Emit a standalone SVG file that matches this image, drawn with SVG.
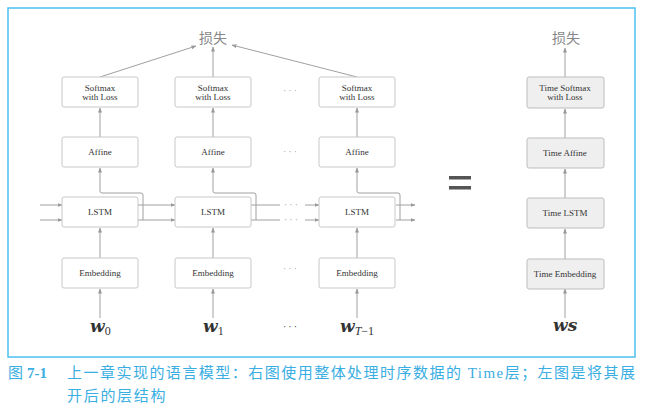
<svg xmlns="http://www.w3.org/2000/svg" width="653" height="414" viewBox="0 0 653 414">
<defs>
<marker id="ah" viewBox="0 0 10 10" refX="9" refY="5" markerWidth="5" markerHeight="5" orient="auto" markerUnits="userSpaceOnUse">
<path d="M0,1 L10,5 L0,9 z" fill="#999"/>
</marker>
<style>
.box{fill:#fff;stroke:#c8c8c8;stroke-width:1}
.tbox{fill:#efefef;stroke:#bdbdbd;stroke-width:1}
.lbl{font-family:'Liberation Serif',serif;font-size:9px;fill:#333;text-anchor:middle}
.loss{font-family:'Noto Sans CJK SC',sans-serif;font-size:14px;fill:#888;text-anchor:middle}
.c{fill:none;stroke:#a0a0a0;stroke-width:1}
.ca{fill:none;stroke:#a0a0a0;stroke-width:1;marker-end:url(#ah)}
.dots{font-family:'Liberation Serif',serif;font-size:10px;fill:#aaa;text-anchor:middle;letter-spacing:2px}
.w{font-family:'DejaVu Serif',serif;font-size:17px;font-weight:bold;font-style:italic;fill:#333}
.sub{font-family:'Liberation Serif',serif;font-size:12px;font-style:normal;font-weight:normal;fill:#333}
.subi{font-family:'Liberation Serif',serif;font-size:12px;font-style:italic;font-weight:normal;fill:#333}
.cap{font-family:'Noto Sans CJK SC',sans-serif;font-size:15px;fill:#3aaee2}
.capr{font-family:'Liberation Serif',serif}
</style>
</defs>
<rect x="8" y="8" width="627" height="349" fill="#fff" stroke="#4cc0ef" stroke-width="1.5"/>

<g id="connectors">
<path class="ca" d="M100,77 L196,46"/>
<path class="ca" d="M213,77 L213,47"/>
<path class="ca" d="M357,77 L232,45"/>
<path class="ca" d="M565,77 L565,48"/>
<path class="ca" d="M100,137 V108"/>
<path class="ca" d="M213,137 V108"/>
<path class="ca" d="M357,137 V108"/>
<path class="ca" d="M565,138 V109"/>
<path class="ca" d="M143,220 V195 Q143,193 141,193 H102 Q100,193 100,191 V168"/>
<path class="ca" d="M256,220 V195 Q256,193 254,193 H215 Q213,193 213,191 V168"/>
<path class="ca" d="M400,220 V195 Q400,193 398,193 H359 Q357,193 357,191 V168"/>
<path class="ca" d="M565,198 V169"/>
<path class="ca" d="M100,258 V228"/>
<path class="ca" d="M213,258 V228"/>
<path class="ca" d="M357,258 V228"/>
<path class="ca" d="M565,259 V229"/>
<path class="ca" d="M100,318 V289"/>
<path class="ca" d="M213,318 V289"/>
<path class="ca" d="M357,318 V289"/>
<path class="ca" d="M565,318 V289"/>
<path class="ca" d="M40,205 H62"/>
<path class="ca" d="M40,220 H62"/>
<path class="ca" d="M138,205 H175"/>
<path class="ca" d="M138,220 H175"/>
<path class="c" d="M251,205 H280"/>
<path class="c" d="M251,220 H280"/>
<path class="ca" d="M305,205 H319"/>
<path class="ca" d="M305,220 H319"/>
<path class="ca" d="M396,205 H415"/>
<path class="ca" d="M396,220 H415"/>
<text class="dots" x="292" y="208">···</text>
<text class="dots" x="292" y="223">···</text>
</g>

<g id="loss-left"><text class="loss" x="213" y="43">损失</text></g>
<g id="loss-right"><text class="loss" x="566" y="43">损失</text></g>

<g id="softmax0"><rect class="box" x="62" y="77" width="76" height="30" rx="2"/><text class="lbl" x="100" y="91">Softmax</text><text class="lbl" x="100" y="100">with Loss</text></g>
<g id="softmax1"><rect class="box" x="175" y="77" width="76" height="30" rx="2"/><text class="lbl" x="213" y="91">Softmax</text><text class="lbl" x="213" y="100">with Loss</text></g>
<g id="softmax2"><rect class="box" x="319" y="77" width="76" height="30" rx="2"/><text class="lbl" x="357" y="91">Softmax</text><text class="lbl" x="357" y="100">with Loss</text></g>

<g id="affine0"><rect class="box" x="62" y="137" width="76" height="30" rx="2"/><text class="lbl" x="100" y="155">Affine</text></g>
<g id="affine1"><rect class="box" x="175" y="137" width="76" height="30" rx="2"/><text class="lbl" x="213" y="155">Affine</text></g>
<g id="affine2"><rect class="box" x="319" y="137" width="76" height="30" rx="2"/><text class="lbl" x="357" y="155">Affine</text></g>

<g id="lstm0"><rect class="box" x="62" y="197" width="76" height="30" rx="2"/><text class="lbl" x="100" y="215">LSTM</text></g>
<g id="lstm1"><rect class="box" x="175" y="197" width="76" height="30" rx="2"/><text class="lbl" x="213" y="215">LSTM</text></g>
<g id="lstm2"><rect class="box" x="319" y="197" width="76" height="30" rx="2"/><text class="lbl" x="357" y="215">LSTM</text></g>

<g id="emb0"><rect class="box" x="62" y="258" width="76" height="30" rx="2"/><text class="lbl" x="100" y="276">Embedding</text></g>
<g id="emb1"><rect class="box" x="175" y="258" width="76" height="30" rx="2"/><text class="lbl" x="213" y="276">Embedding</text></g>
<g id="emb2"><rect class="box" x="319" y="258" width="76" height="30" rx="2"/><text class="lbl" x="357" y="276">Embedding</text></g>

<g id="dots-col">
<text class="dots" x="291" y="94">···</text>
<text class="dots" x="291" y="155">···</text>
<text class="dots" x="291" y="272">···</text>
<text class="dots" x="291" y="330" style="fill:#333">···</text>
</g>

<g id="time-softmax"><rect class="tbox" x="527" y="77" width="77" height="31" rx="2"/><text class="lbl" x="565" y="91">Time Softmax</text><text class="lbl" x="565" y="100">with Loss</text></g>
<g id="time-affine"><rect class="tbox" x="527" y="138" width="77" height="30" rx="2"/><text class="lbl" x="565" y="156">Time Affine</text></g>
<g id="time-lstm"><rect class="tbox" x="527" y="198" width="77" height="30" rx="2"/><text class="lbl" x="565" y="216">Time LSTM</text></g>
<g id="time-emb"><rect class="tbox" x="527" y="259" width="77" height="30" rx="2"/><text class="lbl" x="565" y="277">Time Embedding</text></g>

<g id="words">
<text class="w" x="90" y="332">w<tspan class="sub" dy="3">0</tspan></text>
<text class="w" x="203" y="332">w<tspan class="sub" dy="3">1</tspan></text>
<text class="w" x="340" y="332">w<tspan class="subi" dy="3">T</tspan><tspan class="sub">−1</tspan></text>
<text class="w" x="553" y="331">ws</text>
</g>

<g id="equals">
<rect x="449" y="176" width="22" height="3.5" fill="#555"/>
<rect x="449" y="186" width="22" height="3.5" fill="#555"/>
</g>

<g id="caption">
<text class="cap" x="8" y="378">图<tspan class="capr" font-weight="bold" dx="4">7-1</tspan></text>
<text class="cap" x="67" y="378" textLength="568" lengthAdjust="spacing">上一章实现的语言模型：右图使用整体处理时序数据的<tspan class="capr"> Time</tspan>层；左图是将其展</text>
<text class="cap" x="67" y="401" letter-spacing="1.7">开后的层结构</text>
</g>
</svg>
